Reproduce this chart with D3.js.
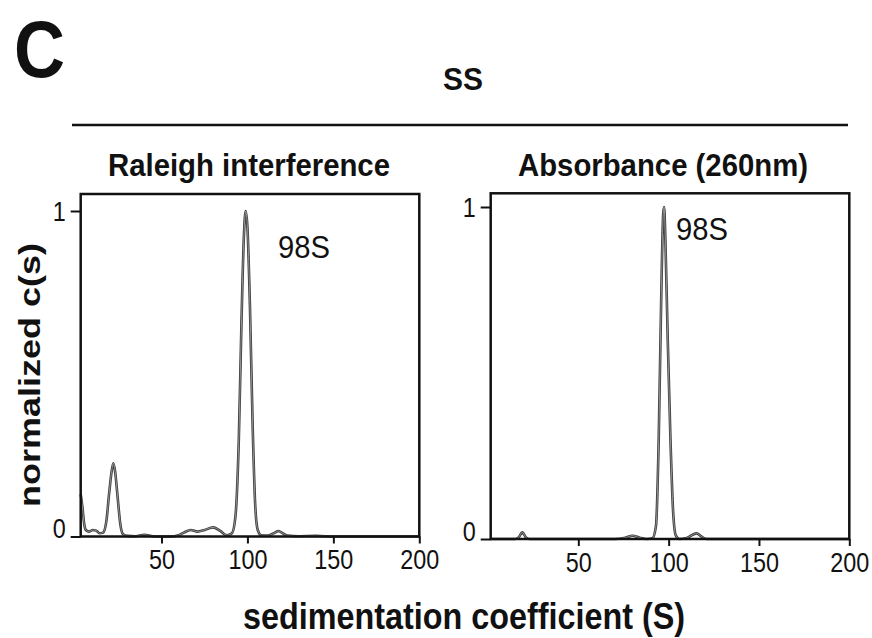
<!DOCTYPE html>
<html>
<head>
<meta charset="utf-8">
<script src="https://cdn.jsdelivr.net/npm/d3@7"></script>
<style>
  html, body { margin: 0; padding: 0; background: #fff; }
  svg { display: block; }
  text { font-family: "Liberation Sans", Arial, sans-serif; fill: #111; }
</style>
</head>
<body>
<svg id="chart" width="872" height="638"></svg>
<script>
// Sedimentation coefficient distributions c(s), normalized to the main peak
const interferenceS = [3, 4, 5, 6, 8, 10, 12, 14, 16, 18, 19.5, 21, 22, 23, 24.5, 26, 27.5, 30, 35, 40, 45, 50, 55, 60, 63, 67, 71, 75, 80, 84, 88, 91, 93, 95, 96.5, 98, 99, 100, 101.5, 103, 104.5, 106, 108, 112, 116, 118, 120, 123, 130, 140, 150, 200];
const interferenceC = [0.13, 0.09, 0.04, 0.02, 0.015, 0.02, 0.018, 0.01, 0.012, 0.05, 0.13, 0.2, 0.225, 0.2, 0.12, 0.04, 0.008, 0.002, 0.001, 0.005, 0.001, 0, 0, 0.004, 0.012, 0.02, 0.015, 0.02, 0.028, 0.018, 0.004, 0.01, 0.06, 0.3, 0.65, 0.93, 1.0, 0.95, 0.7, 0.35, 0.1, 0.02, 0.004, 0.003, 0.012, 0.017, 0.012, 0.003, 0.001, 0.002, 0, 0];

const absorbanceS = [1.5, 15, 17, 19, 21, 23, 70, 76, 80, 84, 88, 91, 93, 94.5, 95.8, 97, 97.5, 98.2, 99.5, 101, 102.5, 104, 106, 110, 113, 115.5, 118, 121, 200];
const absorbanceC = [0, 0, 0.005, 0.02, 0.005, 0, 0, 0.004, 0.01, 0.004, 0, 0.002, 0.04, 0.3, 0.7, 0.98, 1.0, 0.9, 0.6, 0.3, 0.08, 0.01, 0, 0.003, 0.012, 0.017, 0.008, 0, 0];

const xTicks = [50, 100, 150, 200];
const yTicks = [0, 1];
const panelTitles = ["Raleigh interference", "Absorbance (260nm)"];
const peakLabel = "98S";

const svg = d3.select("#chart");

// Figure letter, sample name and rule
svg.append("text").attr("x", 14).attr("y", 77)
  .attr("font-size", 80).attr("font-weight", "bold")
  .attr("textLength", 51).attr("lengthAdjust", "spacingAndGlyphs").text("C");
svg.append("text").attr("x", 463).attr("y", 90).attr("text-anchor", "middle")
  .attr("font-family", "Open Sans, sans-serif")
  .attr("font-size", 31).attr("font-weight", "bold")
  .attr("textLength", 40).attr("lengthAdjust", "spacingAndGlyphs").text("SS");
svg.append("line").attr("x1", 72).attr("x2", 848).attr("y1", 125).attr("y2", 125)
  .attr("stroke", "#111").attr("stroke-width", 2.5);

const panels = [
  { title: panelTitles[0], titleX: 249, titleW: 282, s: interferenceS, c: interferenceC,
    xDom: [3, 200], left: 80.7, right: 419.3, top: 194, bottom: 536.5, y1: 211,
    labelX: 278, labelY: 258 },
  { title: panelTitles[1], titleX: 663, titleW: 290, s: absorbanceS, c: absorbanceC,
    xDom: [1.5, 200], left: 490.7, right: 849.3, top: 193.3, bottom: 539, y1: 207,
    labelX: 676, labelY: 240 }
];

// condensed numeric labels: fixed width per character
const fitTicks = sel => sel.each(function () {
  const t = d3.select(this);
  t.attr("textLength", t.text().length * 13).attr("lengthAdjust", "spacingAndGlyphs");
});

panels.forEach(p => {
  const x = d3.scaleLinear().domain(p.xDom).range([p.left, p.right]);
  const y = d3.scaleLinear().domain([0, 1]).range([p.bottom, p.y1]);
  const g = svg.append("g");

  g.append("text").attr("x", p.titleX).attr("y", 176).attr("text-anchor", "middle")
    .attr("font-size", 32).attr("font-weight", "bold")
    .attr("textLength", p.titleW).attr("lengthAdjust", "spacingAndGlyphs").text(p.title);

  // distribution curve: dark outline with lighter core
  const pts = p.s.map((v, i) => [v, p.c[i]]);
  const path = d3.line().x(d => x(d[0])).y(d => y(d[1])).curve(d3.curveMonotoneX)(pts);
  g.append("path").attr("d", path).attr("fill", "none")
    .attr("stroke", "#3a3a3a").attr("stroke-width", 2.6).attr("stroke-linejoin", "round");
  g.append("path").attr("d", path).attr("fill", "none")
    .attr("stroke", "#aaa").attr("stroke-width", 0.8).attr("stroke-linejoin", "round");

  // frame
  g.append("rect").attr("x", p.left).attr("y", p.top)
    .attr("width", p.right - p.left).attr("height", p.bottom - p.top)
    .attr("fill", "none").attr("stroke", "#111").attr("stroke-width", 2.5);

  // x axis
  const xAxis = d3.axisBottom(x).tickValues(xTicks).tickFormat(d3.format("d"))
    .tickSize(7).tickPadding(6);
  const gx = g.append("g").attr("transform", `translate(0,${p.bottom})`).call(xAxis);
  gx.select(".domain").remove();
  gx.selectAll(".tick line").attr("stroke", "#111").attr("stroke-width", 2);
  gx.selectAll(".tick text").attr("font-size", 28).attr("fill", "#111")
    .attr("font-family", "Liberation Sans, Arial, sans-serif").call(fitTicks);

  // y axis
  const yAxis = d3.axisLeft(y).tickValues(yTicks).tickFormat(d3.format("d"))
    .tickSize(10).tickPadding(5);
  const gy = g.append("g").attr("transform", `translate(${p.left},0)`).call(yAxis);
  gy.select(".domain").remove();
  gy.selectAll(".tick line").attr("stroke", "#111").attr("stroke-width", 2);
  gy.selectAll(".tick text").attr("font-size", 28).attr("fill", "#111")
    .attr("font-family", "Liberation Sans, Arial, sans-serif")
    .attr("dy", d => d === 0 ? "0.05em" : "0.35em").call(fitTicks);

  g.append("text").attr("x", p.labelX).attr("y", p.labelY)
    .attr("font-size", 31).attr("textLength", 52).attr("lengthAdjust", "spacingAndGlyphs")
    .text(peakLabel);
});

// Axis titles
svg.append("text").attr("transform", "translate(40,375) rotate(-90)")
  .attr("text-anchor", "middle").attr("font-size", 30).attr("font-weight", "bold")
  .attr("textLength", 264).attr("lengthAdjust", "spacingAndGlyphs").text("normalized c(s)");
svg.append("text").attr("x", 464).attr("y", 629).attr("text-anchor", "middle")
  .attr("font-family", "Open Sans, sans-serif")
  .attr("font-size", 36).attr("font-weight", "bold")
  .attr("textLength", 442).attr("lengthAdjust", "spacingAndGlyphs").text("sedimentation coefficient (S)");
</script>
</body>
</html>
